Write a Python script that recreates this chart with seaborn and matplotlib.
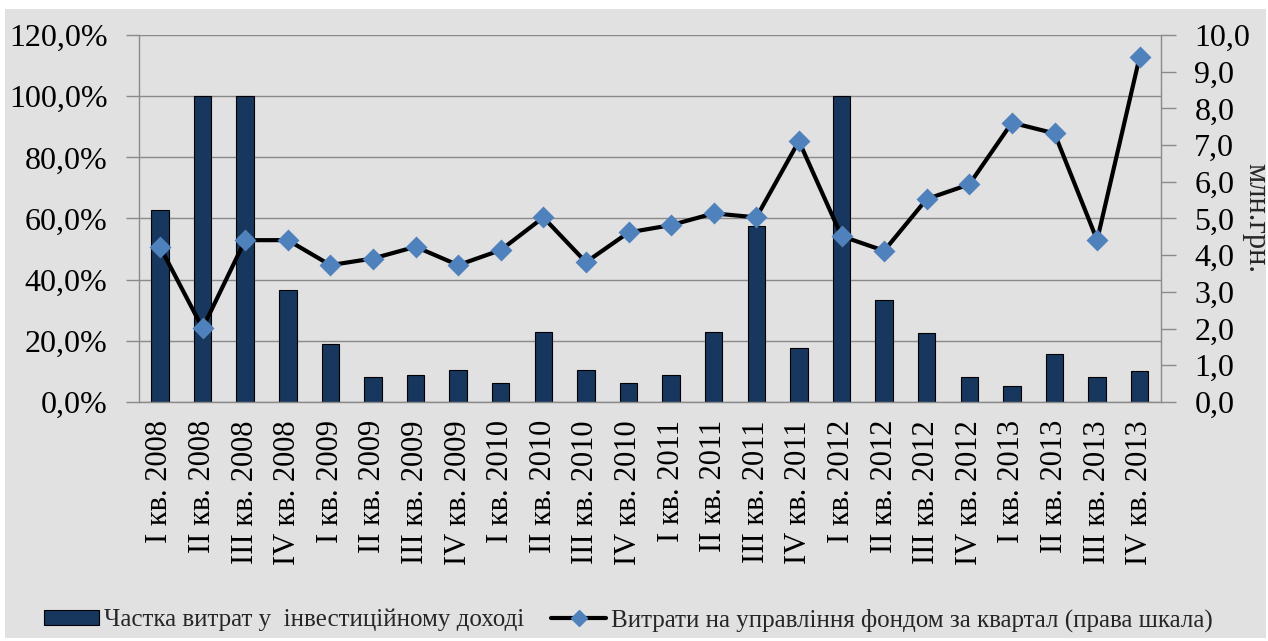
import numpy as np
import pandas as pd
import matplotlib
matplotlib.use("Agg")
import matplotlib.pyplot as plt
from matplotlib.patches import Rectangle, Patch
from matplotlib.lines import Line2D
from matplotlib.ticker import FuncFormatter, FixedLocator
import seaborn as sns

# Quarters 2008–2013
quarters = [
    "I кв. 2008", "II кв. 2008", "III кв. 2008", "IV кв. 2008",
    "I кв. 2009", "II кв. 2009", "III кв. 2009", "IV кв. 2009",
    "I кв. 2010", "II кв. 2010", "III кв. 2010", "IV кв. 2010",
    "I кв. 2011", "II кв. 2011", "III кв. 2011", "IV кв. 2011",
    "I кв. 2012", "II кв. 2012", "III кв. 2012", "IV кв. 2012",
    "I кв. 2013", "II кв. 2013", "III кв. 2013", "IV кв. 2013",
]
# Share of expenses in investment income, %
expense_share = [62.7, 100.0, 100.0, 36.7, 19.1, 8.3, 8.7, 10.5,
                 6.1, 23.0, 10.5, 6.1, 8.7, 23.0, 57.5, 17.8,
                 100.0, 33.4, 22.7, 8.3, 5.3, 15.7, 8.3, 10.1]
# Fund management expenses per quarter, mln UAH (right scale)
mgmt_expenses = [4.23, 2.01, 4.41, 4.41, 3.73, 3.91, 4.23, 3.73,
                 4.14, 5.03, 3.81, 4.62, 4.82, 5.14, 5.03, 7.11,
                 4.52, 4.12, 5.53, 5.93, 7.61, 7.32, 4.41, 9.41]

bar_label = "Частка витрат у  інвестиційному доході"
line_label = "Витрати на управління фондом за квартал (права шкала)"
right_unit = "млн.грн."

df = pd.DataFrame({"quarter": quarters, "share": expense_share,
                   "expenses": mgmt_expenses})
df["pos"] = np.arange(len(df))

sns.set_theme(style="white")
plt.rcParams["font.family"] = ["Liberation Serif", "DejaVu Serif"]

W, H = 1268, 641
fig = plt.figure(figsize=(W / 100, H / 100), dpi=100, facecolor="white")
# grey chart area
fig.patches.append(Rectangle((5 / W, 3 / H), 1261 / W, 629 / H,
                             transform=fig.transFigure, facecolor="#E1E1E1",
                             edgecolor="none", zorder=-10))

ax = fig.add_axes([138.7 / W, (H - 402) / H, (1161 - 138.7) / W, 367 / H])
ax.set_facecolor("none")

navy = "#17375E"
blue = "#4F81BD"
grey = "#8A8A8A"

sns.barplot(data=df, x="quarter", y="share", color=navy, saturation=1,
            edgecolor="black", linewidth=0.8, width=0.41, ax=ax, zorder=2)

ax.set_ylim(0, 120)
ax.set_xlim(-0.5, len(df) - 0.5)
ax.set_yticks(np.arange(0, 121, 20))
ax.yaxis.set_major_formatter(FuncFormatter(lambda v, p: f"{v:.1f}%".replace(".", ",")))
ax.grid(axis="y", color=grey, linewidth=1.0, zorder=0)
ax.grid(axis="x", visible=False)
ax.set_axisbelow(True)
ax.set_xlabel("")
ax.set_ylabel("")

ax.set_xticks(df["pos"])
ax.set_xticklabels(quarters, rotation=90)
ax.xaxis.set_minor_locator(FixedLocator(np.arange(-0.5, len(df), 1.0)))
ax.tick_params(axis="x", which="major", length=0, pad=13, labelsize=22, colors="black")
ax.tick_params(axis="x", which="minor", length=10, width=1, color=grey, direction="out")
ax.tick_params(axis="y", which="major", length=9.5, width=1, color=grey,
               direction="out", pad=13, labelsize=23, labelcolor="black", left=True)

for side in ["left", "bottom"]:
    ax.spines[side].set_visible(True)
    ax.spines[side].set_color(grey)
    ax.spines[side].set_linewidth(1)
ax.spines["top"].set_visible(False)
ax.spines["right"].set_visible(False)

ax2 = ax.twinx()
ax2.set_facecolor("none")
sns.lineplot(data=df, x="pos", y="expenses", color="black", linewidth=3,
             ax=ax2, zorder=3)
sns.scatterplot(data=df, x="pos", y="expenses", marker="D", s=125,
                color=blue, edgecolor=blue, linewidth=0, ax=ax2, zorder=4)
ax2.set_ylim(0, 10)
ax2.set_xlim(-0.5, len(df) - 0.5)
ax2.set_yticks(np.arange(0, 10.5, 1))
ax2.yaxis.set_major_formatter(FuncFormatter(lambda v, p: f"{v:.1f}".replace(".", ",")))
ax2.tick_params(axis="y", which="major", length=11, width=1, color=grey,
                direction="out", pad=13, labelsize=23, labelcolor="black", right=True)
ax2.set_xlabel("")
ax2.set_ylabel(right_unit, rotation=270, fontsize=22, va="center", ha="center",
               rotation_mode="anchor")
ax2.yaxis.set_label_coords(1.0925, 0.501)
for side in ["left", "top", "bottom"]:
    ax2.spines[side].set_visible(False)
ax2.spines["right"].set_visible(True)
ax2.spines["right"].set_color(grey)
ax2.spines["right"].set_linewidth(1)
ax2.grid(False)

handles = [
    Patch(facecolor=navy, edgecolor="black", linewidth=0.8),
    Line2D([0], [0], color="black", linewidth=3, marker="D", markersize=8,
           markerfacecolor=blue, markeredgecolor=blue),
]
fig.legend(handles, [bar_label, line_label], loc="center",
           bbox_to_anchor=(0.4955, (H - 620) / H), ncol=2, frameon=False,
           fontsize=18, handlelength=2.2, handleheight=0.55, handletextpad=0.2,
           columnspacing=1.1)

fig.savefig("out.png", dpi=100, facecolor="white")
